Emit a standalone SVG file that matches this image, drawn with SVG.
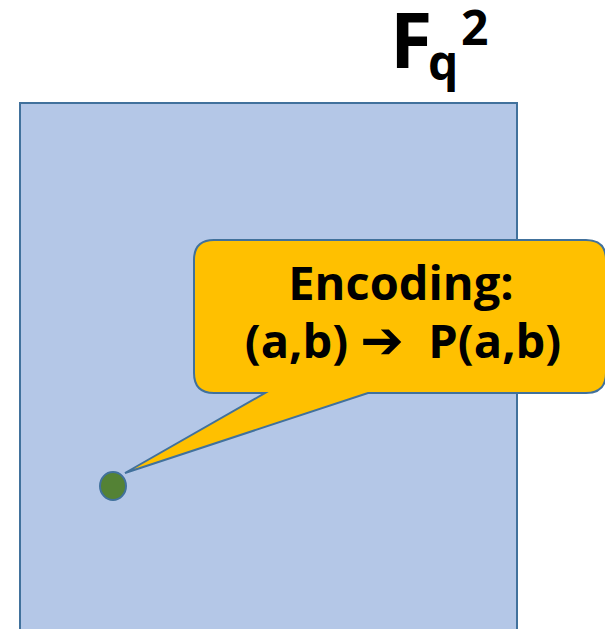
<svg xmlns="http://www.w3.org/2000/svg" width="605" height="629" viewBox="0 0 605 629">
<style>
.lbl{font-family:"Open Sans","Liberation Sans",sans-serif;font-weight:bold;fill:#000}
.arr{font-family:"DejaVu Sans",sans-serif;font-weight:bold}
.edge{stroke:#41719C;stroke-width:2}
</style>
<rect width="605" height="629" fill="#fff"/>
<g id="plane">
<rect class="edge" x="20" y="103" width="497" height="540" fill="#B4C7E7"/>
<text class="lbl" x="390" y="68" font-size="77">F</text>
<text class="lbl" x="428" y="80" font-size="48">q</text>
<text class="lbl" x="461" y="45" font-size="48">2</text>
</g>
<g id="point">
<ellipse class="edge" cx="113" cy="486" rx="13" ry="14" fill="#548235"/>
</g>
<g id="callout">
<path class="edge" fill="#FFC000" d="M214,240 H586 Q606,240 606,260 V373 Q606,393 586,393 H368 L125,473 L265,393 H214 Q194,393 194,373 V260 Q194,240 214,240 Z"/>
<text class="lbl" x="401" y="300" font-size="47" text-anchor="middle">Encoding:</text>
<text class="lbl" x="403" y="358" font-size="47" text-anchor="middle" xml:space="preserve">(a,b) <tspan class="arr" font-size="52">➔</tspan>  P(a,b)</text>
</g>
</svg>
